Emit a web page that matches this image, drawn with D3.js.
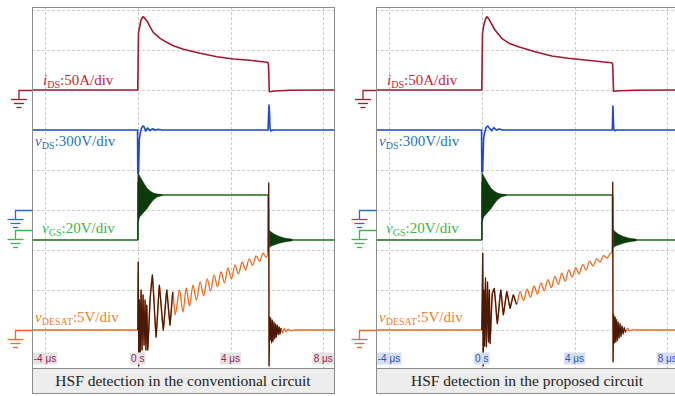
<!DOCTYPE html>
<html><head><meta charset="utf-8">
<script src="https://cdn.jsdelivr.net/npm/d3@7/dist/d3.min.js"></script>
<style>body{margin:0;background:#fff}svg{display:block}</style>
</head><body>
<svg id="c" width="675" height="396"></svg>
<script>
// ---------------- DATA ----------------
const timeTicks = [-4, 0, 4, 8];                      // μs
const tickLabels = ["-4 μs", "0 s", "4 μs", "8 μs"];
const captions = ["HSF detection in the conventional circuit", "HSF detection in the proposed circuit"];
const chanSymbols = ["i", "v", "v", "v"];
const chanSubs = ["DS", "DS", "GS", "DESAT"];
const chanUnits = [":50A/div", ":300V/div", ":20V/div", ":5V/div"];
const chanPerDiv = [50, 300, 20, 5];
const chanGroundDiv = [6, 3, 2.5, 0];

// conventional circuit: [t (μs), value]
const iDS_conv = [[-4.56,0],[0,0],[0.03,71],[0.07,77.5],[0.14,87.5],[0.22,91.6],[0.29,90],[0.39,86.6],[0.53,79],[0.67,72],[0.96,64.6],[1.25,59.6],[1.53,55.4],[1.97,50.9],[2.69,45.9],[3.41,41.6],[4.12,38.8],[4.84,37.1],[5.56,34.6],[5.63,33.8],[5.645,25],[5.67,-2.1],[5.92,-1.3],[6.55,-0.4],[8.46,0]];
const vDS_conv = [[-4.56,600],[-0.01,600],[0,277],[0.035,277],[0.065,525],[0.1,570],[0.155,610],[0.216,630],[0.27,625],[0.34,592],[0.42,615],[0.53,595],[0.64,610],[0.75,598],[0.875,605],[1.05,600],[5.62,600],[5.64,712],[5.66,787],[5.68,727],[5.70,615],[5.74,592],[5.83,600],[8.46,600]];
const vGS_conv = [[-4.56,-5],[0.005,-5],[0.013,24],[0.5,17],[1.05,17.5],[5.625,17.5],[5.64,-5],[8.46,-5]];
const vGSring_conv = [[0.005,28.5,-5],[0.013,28.5,4],[0.08,27,6.5],[0.23,24,8.5],[0.39,21,10.5],[0.53,19.5,13],[0.67,18.5,15],[0.83,18,16.5],[1.05,17.7,17.2],
                      [5.635,17,-9],[5.64,0,-9],[5.75,-1,-8],[5.87,-2,-7.5],[6.05,-3,-6.8],[6.31,-4,-6],[6.66,-4.6,-5.4]];
const vDESAT_conv = [[-4.56,0],[0,0],[0.02,8.5],[0.043,-4.5],[0.07,3.75],[0.108,-2.75],[0.142,5],[0.185,-2.5],[0.228,4.4],[0.27,-1.9],[0.315,3.75],[0.35,-2.5],[0.39,3.1],[0.43,-2.5],[0.53,3.75],[0.63,6.9],[0.79,-0.9],[0.93,5.6],[1.10,0],[1.25,5],[1.39,0.6],[1.51,4.75],[1.61,1.9],[1.80,5],[1.95,2.25],[2.09,5.25],[2.23,3],[2.38,5.6],[2.53,3.75],[2.69,6],[2.84,4.25],[2.99,6.4],[3.14,4.9],[3.29,6.9],[3.44,5.4],[3.59,7.25],[3.74,5.9],[3.89,7.75],[4.04,6.4],[4.19,8.1],[4.34,7],[4.50,8.5],[4.65,7.5],[4.80,8.9],[4.95,8.1],[5.10,9.25],[5.25,8.6],[5.40,9.6],[5.53,9.1],[5.62,9.75],[5.645,18.4],[5.66,-4.5],[5.69,1.6],[5.71,-1.25],[5.73,1.5],[5.77,-1.6],[5.80,1.25],[5.83,-1.4],[5.87,1],[5.90,-1.1],[5.94,0.75],[5.97,-0.9],[6.01,0.6],[6.05,-0.6],[6.09,0.4],[6.13,-0.5],[6.18,0.25],[6.24,-0.4],[6.31,0.2],[6.39,-0.2],[6.48,0.1],[6.61,-0.1],[6.78,0],[8.46,0]];

// proposed circuit
const iDS_prop = [[-4.56,0],[0,0],[0.03,70],[0.08,80],[0.15,88],[0.22,91.6],[0.3,89],[0.4,84],[0.57,75],[0.86,64.6],[1.2,58],[1.58,54],[2.3,47.9],[3.02,42.5],[3.73,39.6],[4.45,37.5],[5.17,35.4],[5.6,34.1],[5.64,33],[5.655,22],[5.68,-1.5],[5.95,-1],[6.6,-0.3],[8.46,0]];
const vDS_prop = [[-4.56,600],[-0.01,600],[0,287],[0.04,287],[0.08,540],[0.13,585],[0.19,620],[0.26,630],[0.34,610],[0.43,595],[0.52,618],[0.62,600],[0.75,607],[0.9,600],[5.63,600],[5.645,720],[5.655,780],[5.67,700],[5.69,610],[5.73,595],[5.82,600],[8.46,600]];
const vGS_prop = [[-4.56,-5],[0.005,-5],[0.013,24],[0.5,17],[1.05,17.5],[5.635,17.5],[5.65,-5],[8.46,-5]];
const vGSring_prop = [[0.005,28.5,-5],[0.013,28.5,4],[0.08,27,6.5],[0.23,24,8.5],[0.39,21,10.5],[0.53,19.5,13],[0.67,18.5,15],[0.83,18,16.5],[1.05,17.7,17.2],
                      [5.645,17,-9],[5.65,0.5,-9],[5.76,-1,-8],[5.88,-2,-7.5],[6.05,-3,-6.8],[6.31,-4,-6],[6.66,-4.6,-5.4]];
const vDESAT_prop = [[-4.56,0],[0,0],[0.02,4],[0.043,9.6],[0.06,-4.5],[0.09,5],[0.12,-2],[0.16,6.5],[0.2,-2.1],[0.25,6],[0.29,-1.5],[0.33,5],[0.358,-1.7],[0.45,4.5],[0.54,5.2],[0.67,0.8],[0.82,5.0],[0.93,1.9],[1.08,4.8],[1.22,2.7],[1.36,4.4],[1.5,3.2],[1.65,4.8],[1.8,3.7],[1.95,5.1],[2.1,4.1],[2.25,5.5],[2.4,4.5],[2.55,5.9],[2.7,4.9],[2.85,6.3],[3.0,5.3],[3.15,6.7],[3.3,5.7],[3.45,7.1],[3.6,6.1],[3.75,7.5],[3.9,6.6],[4.05,7.8],[4.2,7.0],[4.35,8.2],[4.5,7.5],[4.65,8.6],[4.8,8.0],[4.95,8.9],[5.1,8.5],[5.25,9.3],[5.4,9.0],[5.55,9.6],[5.63,9.7],[5.645,18.5],[5.66,-4],[5.69,1.9],[5.72,-1.6],[5.75,1.6],[5.78,-1.5],[5.81,1.3],[5.85,-1.3],[5.88,1.0],[5.92,-1.0],[5.96,0.8],[6.0,-0.8],[6.04,0.5],[6.09,-0.5],[6.14,0.3],[6.2,-0.3],[6.28,0.2],[6.38,-0.1],[6.5,0.05],[6.7,0],[8.46,0]];

// ---------------- DRAWING ----------------
const svg = d3.select('#c');
const PW = 302, PH = 361, CH = 25;
const x = d3.scaleLinear().domain([-4.56, 8.46]).range([0, PW]);
const yDiv = d3.scaleLinear().domain([0, 8]).range([323, 3]);

const traceCol = ["#a3182e", "#1f48d0", "#1d6a1d", "#ee6a1e"];
const labelCol = ["#cc2236", "#2d6fc6", "#3cb54a", "#f28030"];
const darkCol  = ["#6a0c1a", "#14145e", "#0b3a0b", "#4a1a06"];

const panels = [
  {left: 32, iDS: iDS_conv, vDS: vDS_conv, vGS: vGS_conv, ring: vGSring_conv, des: vDESAT_conv, cap: captions[0], tickFill: "#e3e3e6", tickText: "#a01e48"},
  {left: 376, iDS: iDS_prop, vDS: vDS_prop, vGS: vGS_prop, ring: vGSring_prop, des: vDESAT_prop, cap: captions[1], tickFill: "#d6def2", tickText: "#2a55c0"}
];

panels.forEach((p, pi) => {
  const g = svg.append('g').attr('transform', `translate(${p.left},7)`);
  const clipId = 'clip' + pi;
  g.append('clipPath').attr('id', clipId).append('rect').attr('x', 0).attr('y', 0).attr('width', PW).attr('height', PH);

  // grid
  const grid = g.append('g').attr('stroke', '#cdcdcd').attr('stroke-width', 1).attr('stroke-dasharray', '3,2');
  grid.selectAll('line.h').data(d3.range(0, 9)).join('line')
    .attr('x1', 0).attr('x2', PW).attr('y1', d => Math.round(yDiv(d)) + 0.5).attr('y2', d => Math.round(yDiv(d)) + 0.5);
  grid.selectAll('line.v').data(timeTicks).join('line')
    .attr('y1', 0).attr('y2', PH).attr('x1', d => Math.round(x(d)) + 0.5).attr('x2', d => Math.round(x(d)) + 0.5);

  const tr = g.append('g').attr('clip-path', `url(#${clipId})`).attr('fill', 'none').attr('stroke-linejoin', 'round');
  const lineFor = (ch) => d3.line().x(d => x(d[0])).y(d => yDiv(chanGroundDiv[ch] + d[1] / chanPerDiv[ch]));
  const smoothFor = (ch) => lineFor(ch).curve(d3.curveMonotoneX);

  // vGS
  const ringArea = d3.area().x(d => x(d[0]))
    .y0(d => yDiv(chanGroundDiv[2] + d[2] / chanPerDiv[2])).y1(d => yDiv(chanGroundDiv[2] + d[1] / chanPerDiv[2]));
  tr.append('path').attr('d', lineFor(2)(p.vGS)).attr('stroke', traceCol[2]).attr('stroke-width', 1.6);
  tr.append('path').attr('d', ringArea(p.ring.filter(d => d[0] < 2))).attr('fill', darkCol[2]).attr('stroke', darkCol[2]).attr('stroke-width', 0.6);
  tr.append('path').attr('d', ringArea(p.ring.filter(d => d[0] > 2))).attr('fill', darkCol[2]).attr('stroke', darkCol[2]).attr('stroke-width', 0.6);

  // vDESAT
  tr.append('path').attr('d', smoothFor(3)(p.des)).attr('stroke', traceCol[3]).attr('stroke-width', 1.3);
  tr.append('path').attr('d', lineFor(3)(p.des.filter(d => d[0] >= 0 && d[0] <= 1.6))).attr('stroke', darkCol[3]).attr('stroke-width', 1.3);
  tr.append('path').attr('d', lineFor(3)(p.des.filter(d => d[0] >= 5.62 && d[0] <= 6.2))).attr('stroke', darkCol[3]).attr('stroke-width', 1.2);

  // vDS
  tr.append('path').attr('d', lineFor(1)(p.vDS)).attr('stroke', traceCol[1]).attr('stroke-width', 1.6);
  // iDS
  tr.append('path').attr('d', lineFor(0)(p.iDS)).attr('stroke', traceCol[0]).attr('stroke-width', 1.6);

  // ground markers
  [0, 1, 2, 3].forEach(ch => {
    const gy = Math.round(yDiv(chanGroundDiv[ch])) + 0.5;
    const sx = ch === 0 ? -13 : -16.5;
    const m = svg.append('g').attr('transform', `translate(${p.left},7)`).attr('stroke', ch === 2 ? labelCol[2] : (ch === 1 ? '#2a6ad0' : traceCol[ch])).attr('stroke-width', 1.3).attr('fill', 'none');
    m.append('path').attr('d', `M0,${gy}H${sx}V${gy + 9}`);
    [[9, 8], [13, 5], [17, 2.5]].forEach(([dy, hw]) => m.append('line').attr('x1', sx - hw).attr('x2', sx + hw).attr('y1', gy + dy).attr('y2', gy + dy));
  });

  // channel labels
  const labPos = [[11, 78], [3, 139], [10, 226], [3, 314.5]];
  [0, 1, 2, 3].forEach(ch => {
    const t = g.append('text').attr('x', labPos[ch][0]).attr('y', labPos[ch][1])
      .attr('font-family', 'Liberation Serif, Times New Roman, serif').attr('font-size', 15).attr('fill', labelCol[ch]);
    t.append('tspan').attr('font-style', 'italic').text(chanSymbols[ch]);
    t.append('tspan').attr('font-size', 10).attr('dy', 3).text(chanSubs[ch]);
    t.append('tspan').attr('dy', -3).text(chanUnits[ch]);
  });

  // time tick labels
  timeTicks.forEach((tv, i) => {
    const tg = g.append('g');
    const tx = tg.append('text').attr('x', x(tv)).attr('y', 355).attr('text-anchor', 'middle')
      .attr('font-family', 'Liberation Sans, Arial, sans-serif').attr('font-size', 10).attr('fill', p.tickText).text(tickLabels[i]);
    const bb = tx.node().getBBox();
    tg.insert('rect', 'text').attr('x', bb.x - 1).attr('y', 345.5).attr('width', bb.width + 2).attr('height', 12).attr('fill', p.tickFill);
  });

  // frame and caption
  g.append('rect').attr('x', 0.5).attr('y', PH + 0.5).attr('width', PW).attr('height', CH).attr('fill', '#ededed').attr('stroke', '#8c8c8c');
  g.append('rect').attr('x', 0.5).attr('y', 0.5).attr('width', PW).attr('height', PH + CH).attr('fill', 'none').attr('stroke', '#8c8c8c');
  g.append('text').attr('x', PW / 2).attr('y', PH + 18).attr('text-anchor', 'middle')
    .attr('font-family', 'Liberation Serif, Times New Roman, serif').attr('font-size', 15.5).attr('fill', '#222').text(p.cap);
});
</script>
</body></html>
